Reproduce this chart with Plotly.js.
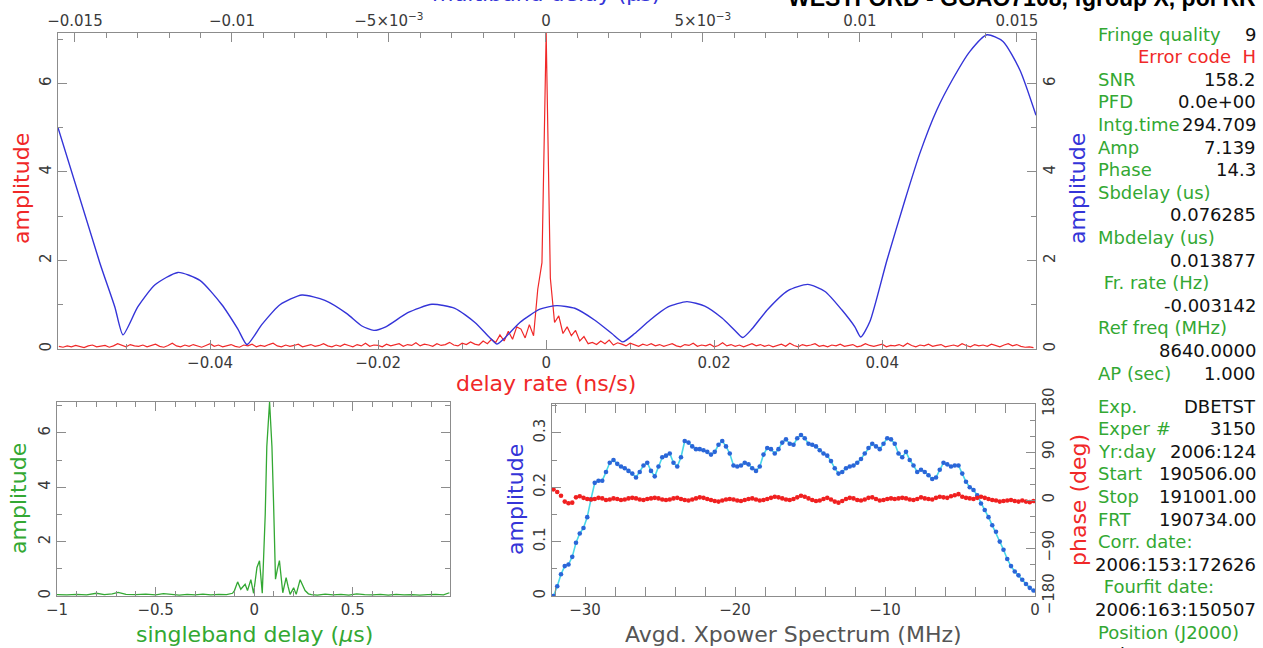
<!DOCTYPE html>
<html>
<head>
<meta charset="utf-8">
<script src="https://cdn.plot.ly/plotly-3.0.1.min.js"></script>
<style>html,body{margin:0;padding:0;background:#fff;}#chart{width:1263px;height:648px;}</style>
</head>
<body>
<div id="chart"></div>
<script>
// ---------------- DATA ----------------
// Delay-rate spectrum (red), uniform grid in ns/s
var rateStart = -0.058;
var rateStep = 0.0005;
var rateAmp = [
0.06,0.04,0.07,0.05,0.08,0.06,0.03,0.07,0.09,0.05,0.06,0.08,0.04,0.07,0.12,0.08,0.05,0.10,0.07,0.06,
0.09,0.05,0.08,0.11,0.06,0.04,0.08,0.13,0.07,0.05,0.09,0.06,0.10,0.07,0.04,0.08,0.12,0.06,0.09,0.05,
0.07,0.10,0.06,0.04,0.09,0.07,0.11,0.05,0.08,0.06,0.10,0.13,0.07,0.05,0.09,0.06,0.08,0.11,0.05,0.07,
0.10,0.06,0.08,0.12,0.07,0.05,0.09,0.06,0.11,0.08,0.05,0.10,0.07,0.13,0.06,0.09,0.08,0.05,0.11,0.07,
0.09,0.12,0.06,0.10,0.08,0.14,0.07,0.11,0.09,0.06,0.12,0.08,0.10,0.15,0.09,0.07,0.13,0.10,0.16,0.11,
0.09,0.18,0.12,0.22,
0.15,0.32,0.18,0.40,0.22,0.50,0.45,0.25,0.55,0.30,1.35,1.95,7.14,1.60,0.60,0.75,0.35,0.50,0.30,0.42,0.18,0.28,0.12,
0.15,0.10,0.18,0.12,0.20,0.09,0.14,0.11,0.07,0.13,0.09,0.06,0.11,0.08,0.12,0.07,0.10,0.06,0.09,0.12,
0.07,0.05,0.10,0.08,0.13,0.06,0.09,0.07,0.11,0.05,0.08,0.14,0.07,0.10,0.06,0.09,0.05,0.08,0.12,0.07,
0.10,0.06,0.09,0.05,0.08,0.11,0.06,0.13,0.08,0.05,0.10,0.07,0.09,0.12,0.06,0.08,0.05,0.09,0.07,0.11,
0.06,0.08,0.10,0.05,0.07,0.12,0.08,0.06,0.09,0.11,0.05,0.08,0.07,0.10,0.06,0.13,0.08,0.05,0.09,0.07,
0.11,0.06,0.08,0.10,0.05,0.07,0.09,0.06,0.12,0.08,0.05,0.10,0.07,0.09,0.06,0.11,0.08,0.05,0.09,0.12,
0.07,0.10,0.06,0.04,0.05,0.03
];

// Multiband delay function (blue), x in microseconds
var mbdX = [-0.01554,-0.01421,-0.01373,-0.01347,-0.01300,-0.01245,-0.01172,-0.01102,-0.01032,-0.00981,
-0.00952,-0.00905,-0.00847,-0.00777,-0.00704,-0.00634,-0.00586,-0.00548,-0.00510,-0.00440,
-0.00363,-0.00290,-0.00226,-0.00178,-0.00156,-0.00131,-0.00083,-0.00019,0.00035,0.00092,
0.00156,0.00210,0.00245,0.00283,0.00331,0.00389,0.00449,0.00506,0.00561,0.00602,
0.00627,0.00656,0.00707,0.00771,0.00834,0.00889,0.00943,0.00984,0.01003,0.01032,
0.01086,0.01143,0.01191,0.01245,0.01296,0.01350,0.01405,0.01456,0.01510,0.01561];
var mbdAmp = [5.00,1.95,0.95,0.32,0.95,1.45,1.73,1.55,1.00,0.45,
0.10,0.55,1.00,1.22,1.10,0.80,0.52,0.42,0.50,0.82,
1.01,0.92,0.60,0.25,0.11,0.25,0.60,0.90,0.98,0.92,
0.65,0.35,0.16,0.35,0.65,0.95,1.07,0.97,0.70,0.42,
0.26,0.45,0.90,1.32,1.46,1.30,0.88,0.50,0.27,0.62,
2.00,3.35,4.42,5.40,6.10,6.72,7.10,6.95,6.30,5.28];

// Singleband delay function (green), x in microseconds
var sbdX = [-1.00,-0.95,-0.90,-0.85,-0.80,-0.76,-0.72,-0.69,-0.65,-0.60,-0.55,-0.50,-0.46,-0.42,-0.38,-0.34,-0.30,-0.26,-0.22,-0.18,
-0.14,-0.11,-0.10,-0.084,-0.068,-0.056,-0.046,-0.034,-0.017,-0.003,0.014,0.027,0.041,0.056,0.064,0.078,0.090,0.098,0.108,0.118,
0.128,0.145,0.155,0.162,0.172,0.182,0.200,0.213,0.233,0.245,0.258,0.275,0.29,0.32,0.36,0.40,0.44,0.48,0.52,0.56,
0.60,0.64,0.68,0.72,0.76,0.80,0.84,0.88,0.92,0.96,0.99];
var sbdAmp = [0.05,0.04,0.06,0.04,0.10,0.05,0.08,0.13,0.06,0.05,0.07,0.04,0.09,0.05,0.03,0.06,0.04,0.07,0.04,0.06,
0.05,0.10,0.20,0.52,0.25,0.35,0.43,0.20,0.60,0.10,1.05,1.30,0.10,3.00,5.50,7.14,5.50,3.50,0.62,1.00,
1.30,0.12,0.45,0.68,0.35,0.06,0.30,0.06,0.60,0.40,0.20,0.08,0.05,0.03,0.07,0.04,0.06,0.03,0.08,0.05,
0.04,0.06,0.03,0.06,0.04,0.05,0.03,0.05,0.06,0.04,0.12];

// Cross-power spectrum, uniform grid in MHz
var specStart = -32.1;
var specStep = 0.25;
var specAmp = [
0.000,0.018,0.040,0.055,0.058,0.072,0.098,0.115,0.125,0.145,
0.178,0.208,0.212,0.212,0.228,0.245,0.250,0.243,0.238,0.235,
0.230,0.225,0.218,0.228,0.240,0.245,0.230,0.220,0.238,0.255,
0.258,0.262,0.245,0.238,0.255,0.285,0.282,0.275,0.270,0.270,
0.268,0.265,0.260,0.265,0.278,0.285,0.275,0.262,0.240,0.238,
0.240,0.245,0.242,0.235,0.230,0.238,0.260,0.272,0.270,0.262,
0.270,0.282,0.288,0.280,0.278,0.290,0.296,0.290,0.280,0.278,
0.275,0.268,0.262,0.258,0.248,0.235,0.225,0.228,0.235,0.238,
0.240,0.245,0.252,0.262,0.272,0.280,0.275,0.270,0.280,0.290,
0.288,0.280,0.262,0.255,0.265,0.250,0.240,0.228,0.232,0.228,
0.222,0.215,0.218,0.232,0.245,0.242,0.238,0.240,0.240,0.225,
0.210,0.200,0.195,0.185,0.170,0.158,0.145,0.130,0.118,0.100,
0.085,0.068,0.055,0.045,0.038,0.030,0.022,0.015,0.010];
var specPhase = [
20,15,8,-3,-6,-5,5,7,4,2,
1,2,4,3,0,1,3,2,0,1,
3,4,3,1,0,2,3,4,3,1,
0,1,3,4,2,0,-1,1,3,5,
4,2,0,-2,-3,-1,1,2,1,-1,
-2,0,2,3,1,-1,0,2,4,6,
5,3,1,0,2,5,8,6,3,0,
-2,-1,2,4,1,-3,-5,-2,2,4,
3,0,-1,1,4,5,2,-1,0,2,
3,2,3,4,3,1,0,2,5,3,
2,1,4,6,5,4,7,9,11,6,
4,3,2,4,6,4,2,0,-1,-3,
-2,-1,0,-2,-3,-1,-3,-4,-2];

// Fringe summary text (label, value)
var infoRows = [
  ["Fringe quality","9"],
  ["","Error code  H"],
  ["SNR","158.2"],
  ["PFD","0.0e+00"],
  ["Intg.time","294.709"],
  ["Amp","7.139"],
  ["Phase","14.3"],
  ["Sbdelay (us)",""],
  ["","0.076285"],
  ["Mbdelay (us)",""],
  ["","0.013877"],
  [" Fr. rate (Hz)",""],
  ["","-0.003142"],
  ["Ref freq (MHz)",""],
  ["","8640.0000"],
  ["AP (sec)","1.000"]
];
var infoRows2 = [
  ["Exp.","DBETST"],
  ["Exper #","3150"],
  ["Yr:day","2006:124"],
  ["Start","190506.00"],
  ["Stop","191001.00"],
  ["FRT","190734.00"],
  ["Corr. date:",""],
  ["","2006:153:172626"],
  [" Fourfit date:",""],
  ["","2006:163:150507"],
  ["Position (J2000)",""],
  ["","20h27m46.0120s"]
];

// ---------------- LAYOUT HELPERS ----------------
var W = 1263, H = 648;
function PX(x){ return x / W; }
function PY(y){ return 1 - y / H; }

var RED = '#f02828', BLUE = '#3434d8', GREEN = '#33a833', GREY = '#8c8c8c', TXT = '#3a3a3a';
var tickFont = {family: 'DejaVu Sans', size: 15, color: TXT};
var titleFamily = 'DejaVu Sans';
var TS = 22;

function axBase(extra){
  var a = {showgrid:false, zeroline:false, showline:true, linecolor:GREY, linewidth:1,
    ticks:'inside', ticklen:9, tickcolor:GREY, tickwidth:1, tickfont:tickFont, fixedrange:true};
  for (var k in extra) a[k] = extra[k];
  return a;
}

var traces = [
  {type:'scatter', mode:'lines', x0:rateStart, dx:rateStep, y:rateAmp, xaxis:'x', yaxis:'y',
   line:{color:RED, width:1.2}, hoverinfo:'skip'},
  {type:'scatter', mode:'lines', x:mbdX, y:mbdAmp, xaxis:'x2', yaxis:'y2',
   line:{color:BLUE, width:1.4, shape:'spline', smoothing:0.6}, hoverinfo:'skip'},
  {type:'scatter', mode:'lines', x:sbdX, y:sbdAmp, xaxis:'x3', yaxis:'y3',
   line:{color:GREEN, width:1.3}, hoverinfo:'skip'},
  {type:'scatter', mode:'lines+markers', x0:specStart, dx:specStep, y:specAmp, xaxis:'x4', yaxis:'y4',
   line:{color:'#48d8e8', width:1.6}, marker:{color:'#2a66d8', size:4.6}, hoverinfo:'skip'},
  {type:'scatter', mode:'markers', x0:specStart, dx:specStep, y:specPhase, xaxis:'x4', yaxis:'y5',
   marker:{color:'#f02020', size:4.6}, hoverinfo:'skip'}
];

var ann = [];
function addText(x, y, text, color, size, anchor, angle, fam, bold){
  ann.push({xref:'paper', yref:'paper', x:PX(x), y:PY(y), text: bold ? '<b>'+text+'</b>' : text,
    showarrow:false, xanchor:anchor||'center', yanchor:'middle', textangle:angle||0,
    font:{family:fam||'DejaVu Sans', size:size, color:color}});
}
// titles
addText(1258, -2, 'WESTFORD - GGAO7108, fgroup X, pol RR', '#000', 23, 'right', 0, 'Liberation Sans', true);
addText(546, -6, 'multiband delay (μs)', BLUE, TS, 'center', 0, titleFamily);
addText(21, 189, 'amplitude', RED, TS, 'center', -90, titleFamily);
addText(1077, 189, 'amplitude', BLUE, TS, 'center', -90, titleFamily);
addText(546, 383, 'delay rate (ns/s)', RED, TS, 'center', 0, titleFamily);
addText(18, 499, 'amplitude', GREEN, TS, 'center', -90, titleFamily);
addText(254, 634, 'singleband delay (<i>μ</i>s)', GREEN, TS, 'center', 0, titleFamily);
addText(515, 500, 'amplitude', BLUE, TS, 'center', -90, titleFamily);
addText(1078, 500, 'phase (deg)', RED, TS, 'center', -90, titleFamily);
addText(794, 634, 'Avgd. Xpower Spectrum (MHz)', '#555', TS, 'center', 0, titleFamily);

// info panel
var rowY1 = 34, rowY2 = 406, rowH = 22.6, PF = 18;
function panel(rows, y0){
  rows.forEach(function(r, i){
    var y = y0 + i*rowH;
    if (r[0]) addText(1096, y, r[0], GREEN, PF, 'left');
    if (r[1]) {
      if (r[1].indexOf('Error') === 0) addText(1258, y, r[1], RED, PF, 'right');
      else addText(1258, y, r[1], '#111', PF, 'right');
    }
  });
}
panel(infoRows, rowY1);
panel(infoRows2, rowY2);

var layout = {
  width: W, height: H, margin:{l:0,r:0,t:0,b:0}, showlegend:false,
  paper_bgcolor:'#fff', plot_bgcolor:'#fff',
  xaxis: axBase({domain:[PX(58),PX(1036)], anchor:'y', range:[-0.0581,0.0583],
    tickmode:'linear', tick0:0, dtick:0.02, minor:{dtick:0.01, tick0:0, ticks:'inside', ticklen:5, tickcolor:GREY}}),
  xaxis2: axBase({overlaying:'x', side:'top', anchor:'y', range:[-0.01554,0.01561],
    tickmode:'array', tickvals:[-0.015,-0.01,-0.005,0,0.005,0.01,0.015],
    ticktext:['−0.015','−0.01','−5×10<sup>−3</sup>','0','5×10<sup>−3</sup>','0.01','0.015'],
    minor:{tickmode:'linear', tick0:0, dtick:0.001, ticks:'inside', ticklen:5, tickcolor:GREY}}),
  yaxis: axBase({domain:[PY(349),PY(33)], anchor:'x', range:[0,7.14], tickmode:'linear', tick0:0, dtick:2,
    tickangle:-90, minor:{dtick:1, tick0:0, ticks:'inside', ticklen:5, tickcolor:GREY}}),
  yaxis2: axBase({overlaying:'y', side:'right', anchor:'x', range:[0,7.14], tickmode:'linear', tick0:0, dtick:2,
    tickangle:-90, minor:{dtick:1, tick0:0, ticks:'inside', ticklen:5, tickcolor:GREY}}),
  xaxis3: axBase({domain:[PX(57),PX(450)], anchor:'y3', range:[-1,0.993], tickmode:'linear', tick0:0, dtick:0.5,
    mirror:'allticks', minor:{dtick:0.1, tick0:0, ticks:'inside', ticklen:5, tickcolor:GREY}}),
  yaxis3: axBase({domain:[PY(596),PY(402)], anchor:'x3', range:[0,7.14], tickmode:'linear', tick0:0, dtick:2,
    tickangle:-90, mirror:'allticks', minor:{dtick:1, tick0:0, ticks:'inside', ticklen:5, tickcolor:GREY}}),
  xaxis4: axBase({domain:[PX(552),PX(1035)], anchor:'y4', range:[-32.2,0], tickmode:'linear', tick0:0, dtick:10,
    mirror:'allticks', minor:{dtick:2, tick0:0, ticks:'inside', ticklen:5, tickcolor:GREY}}),
  yaxis4: axBase({domain:[PY(596),PY(404)], anchor:'x4', range:[0,0.353], tickmode:'linear', tick0:0, dtick:0.1,
    tickangle:-90, minor:{dtick:0.05, tick0:0, ticks:'inside', ticklen:5, tickcolor:GREY}}),
  yaxis5: axBase({overlaying:'y4', side:'right', anchor:'x4', range:[-180,180], tickmode:'array',
    tickvals:[-180,-90,0,90,180], tickangle:-90,
    minor:{tickmode:'linear', tick0:0, dtick:30, ticks:'inside', ticklen:5, tickcolor:GREY}}),
  annotations: ann
};

Plotly.newPlot('chart', traces, layout, {staticPlot:true, displayModeBar:false});
</script>
</body>
</html>
